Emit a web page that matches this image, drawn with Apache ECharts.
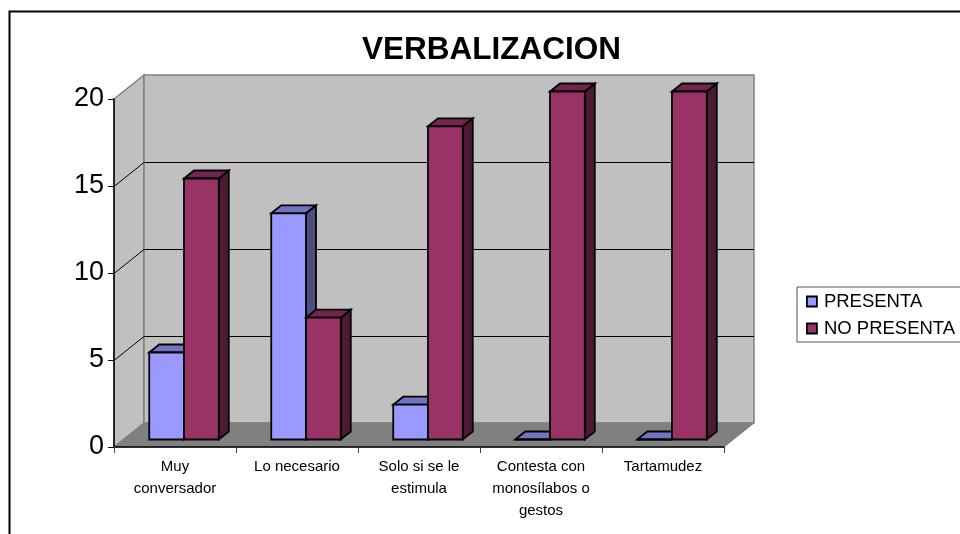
<!DOCTYPE html>
<html>
<head>
<meta charset="utf-8">
<title>VERBALIZACION</title>
<script src="https://cdn.jsdelivr.net/npm/echarts@6/dist/echarts.min.js"></script>
<style>
  html, body { margin: 0; padding: 0; background: #fff; }
  #chart { width: 960px; height: 534px; }
</style>
</head>
<body>
<div id="chart"></div>
<script>
var categories = ['Muy\nconversador', 'Lo necesario', 'Solo si se le\nestimula', 'Contesta con\nmonosílabos o\ngestos', 'Tartamudez'];
var presenta = [5, 13, 2, 0, 0];
var noPresenta = [15, 7, 18, 20, 20];
var gridValues = [5, 10, 15];

// profundidad de la caja 3D (px)
var boxDx = 30, boxDy = 24;
// profundidad de cada barra y su separacion del eje
var barDx = 10, barDy = 8, barOffX = 9, barOffY = 7.5;

var chart = echarts.init(document.getElementById('chart'));

function poly(points, fill, stroke, width) {
  return {
    type: 'polygon',
    shape: { points: points },
    style: { fill: fill, stroke: stroke, lineWidth: width, lineJoin: 'miter' }
  };
}

function renderWalls(params, api) {
  var r = params.coordSys;
  var l = r.x, t = r.y, b = r.y + r.height, w = r.x + r.width;
  return {
    type: 'group',
    children: [
      poly([[l, t], [l + boxDx, t - boxDy], [l + boxDx, b - boxDy], [l, b]], '#c0c0c0', '#808080', 1.5),
      poly([[l + boxDx, t - boxDy], [w + boxDx, t - boxDy], [w + boxDx, b - boxDy], [l + boxDx, b - boxDy]], '#c0c0c0', '#808080', 1.5),
      poly([[l, b], [l + boxDx, b - boxDy], [w + boxDx, b - boxDy], [w, b]], '#808080', '#808080', 1)
    ]
  };
}

function renderGrid(params, api) {
  var r = params.coordSys;
  var y = Math.round(api.coord([0, api.value(0)])[1]) + 0.5;
  var st = { stroke: '#000', lineWidth: 1, fill: null };
  return {
    type: 'group',
    children: [
      { type: 'polyline', shape: { points: [[r.x, y], [r.x + boxDx, y - boxDy], [r.x + r.width + boxDx, y - boxDy]] }, style: st }
    ]
  };
}

// barra 3D: side = 0 izquierda, 1 derecha dentro de la categoria
function barRenderer(side, front, top, lateral) {
  return function (params, api) {
    var cat = api.value(0);
    var base = api.coord([cat, 0]);
    var peak = api.coord([cat, api.value(1)]);
    var barW = api.size([1, 0])[0] * 0.285;
    var x0 = base[0] + barOffX + (side - 1) * barW;
    var x1 = x0 + barW;
    var y0 = base[1] - barOffY;
    var y1 = peak[1] - barOffY;
    return {
      type: 'group',
      children: [
        poly([[x1, y1], [x1 + barDx, y1 - barDy], [x1 + barDx, y0 - barDy], [x1, y0]], lateral, '#000', 1.8),
        poly([[x0, y1], [x0 + barDx, y1 - barDy], [x1 + barDx, y1 - barDy], [x1, y1]], top, '#000', 1.8),
        poly([[x0, y1], [x1, y1], [x1, y0], [x0, y0]], front, '#000', 1.8)
      ]
    };
  };
}

function pairs(values) {
  return values.map(function (v, i) { return [i, v]; });
}

var option = {
  backgroundColor: '#fff',
  animation: false,
  title: {
    text: 'VERBALIZACION',
    left: 362,
    top: 34,
    padding: 0,
    textStyle: { fontFamily: 'Liberation Sans', fontSize: 31.5, fontWeight: 'bold', color: '#000' }
  },
  legend: {
    data: ['PRESENTA', 'NO PRESENTA'],
    orient: 'vertical',
    left: 797,
    top: 287,
    padding: [5, 30, 4, 9],
    itemGap: 8,
    itemWidth: 10,
    itemHeight: 10,
    icon: 'rect',
    backgroundColor: '#fff',
    borderColor: '#555',
    borderWidth: 1,
    selectedMode: false,
    itemStyle: { borderColor: '#000', borderWidth: 1.8 },
    textStyle: { fontFamily: 'Liberation Sans', fontSize: 18.5, color: '#000', padding: [1, 0, 0, 2] }
  },
  grid: { left: 114, top: 99, width: 610, height: 348 },
  xAxis: {
    type: 'category',
    data: categories,
    axisLine: { lineStyle: { color: '#000', width: 1.5 } },
    axisTick: { show: true, length: 6, lineStyle: { color: '#444', width: 1 } },
    axisLabel: { interval: 0, fontFamily: 'Liberation Sans', fontSize: 15, lineHeight: 22, color: '#000', margin: 9 },
    z: 5
  },
  yAxis: {
    type: 'value',
    min: 0,
    max: 20,
    interval: 5,
    splitLine: { show: false },
    axisLine: { show: true, lineStyle: { color: '#000', width: 1.5 } },
    axisTick: { show: true, length: 6, lineStyle: { color: '#000', width: 1 } },
    axisLabel: { fontFamily: 'Liberation Sans', fontSize: 27, color: '#000', margin: 10, padding: [6, 0, 0, 0] },
    z: 5
  },
  series: [
    { type: 'custom', name: 'paredes', silent: true, z: 1, data: [[0]], encode: { y: 0 }, renderItem: renderWalls },
    { type: 'custom', name: 'lineas', silent: true, z: 2, data: gridValues.map(function (v) { return [v]; }), encode: { y: 0 }, renderItem: renderGrid },
    {
      type: 'custom', name: 'PRESENTA', z: 3, data: pairs(presenta), encode: { x: 0, y: 1 },
      itemStyle: { color: '#9999ff' },
      renderItem: barRenderer(0, '#9999ff', '#7373bf', '#4d4d80')
    },
    {
      type: 'custom', name: 'NO PRESENTA', z: 4, data: pairs(noPresenta), encode: { x: 0, y: 1 },
      itemStyle: { color: '#993366' },
      renderItem: barRenderer(1, '#993366', '#73264d', '#4d1a33')
    }
  ],
  // marco del grafico, recortado por la ventana
  graphic: [
    { type: 'rect', silent: true, shape: { x: 9.5, y: 11.5, width: 1000, height: 1000 }, style: { fill: null, stroke: '#000', lineWidth: 2 } }
  ]
};

chart.setOption(option);
</script>
</body>
</html>
